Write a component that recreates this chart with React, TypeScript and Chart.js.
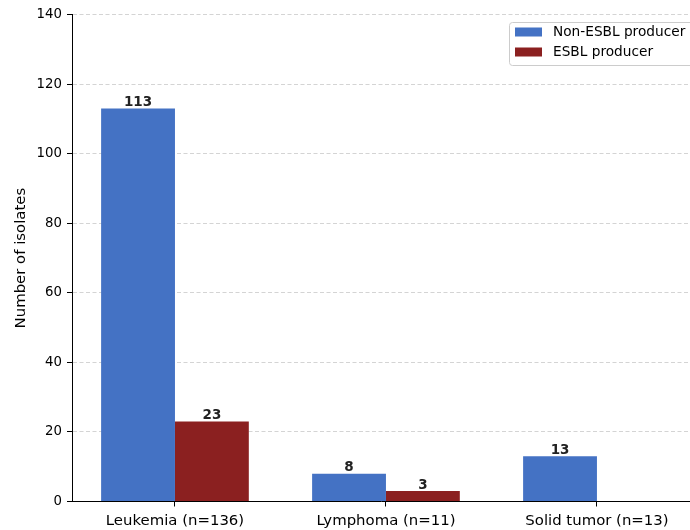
import React, { useEffect, useRef } from "react";
import { Chart, registerables } from "chart.js";

Chart.register(...registerables);

const categories = ["Leukemia (n=136)", "Lymphoma (n=11)", "Solid tumor (n=13)"];
const nonEsblValues = [113, 8, 13];
const esblValues = [23, 3, 0];
const seriesNames = ["Non-ESBL producer", "ESBL producer"];
const seriesColors = ["#4472C4", "#8B2020"];
const yTickValues = [0, 20, 40, 60, 80, 100, 120, 140];
const yTitle = "Number of isolates";

const FONT = "'DejaVu Sans', sans-serif";

const valueLabelPlugin = {
  id: "valueLabels",
  afterDatasetsDraw(chart: any) {
    const ctx = chart.ctx;
    ctx.save();
    ctx.font = `bold 13.5px ${FONT}`;
    ctx.fillStyle = "#222222";
    ctx.textAlign = "center";
    ctx.textBaseline = "alphabetic";
    chart.data.datasets.forEach((ds: any, di: number) => {
      const meta = chart.getDatasetMeta(di);
      meta.data.forEach((bar: any, i: number) => {
        const v = ds.data[i].y;
        if (!v) return;
        ctx.fillText(String(v), bar.x, bar.y - 2.5);
      });
    });
    ctx.restore();
  },
};

const legendPlugin = {
  id: "innerLegend",
  afterDraw(chart: any) {
    const ctx = chart.ctx;
    ctx.save();
    const x0 = 509.5;
    const y0 = 22.5;
    const w = 190;
    const h = 43;
    const r = 3;
    ctx.beginPath();
    ctx.moveTo(x0 + r, y0);
    ctx.lineTo(x0 + w - r, y0);
    ctx.arcTo(x0 + w, y0, x0 + w, y0 + r, r);
    ctx.lineTo(x0 + w, y0 + h - r);
    ctx.arcTo(x0 + w, y0 + h, x0 + w - r, y0 + h, r);
    ctx.lineTo(x0 + r, y0 + h);
    ctx.arcTo(x0, y0 + h, x0, y0 + h - r, r);
    ctx.lineTo(x0, y0 + r);
    ctx.arcTo(x0, y0, x0 + r, y0, r);
    ctx.closePath();
    ctx.fillStyle = "rgba(255,255,255,0.8)";
    ctx.fill();
    ctx.strokeStyle = "#cccccc";
    ctx.lineWidth = 1;
    ctx.stroke();
    ctx.font = `13.7px ${FONT}`;
    ctx.textAlign = "left";
    ctx.textBaseline = "middle";
    seriesNames.forEach((name, i) => {
      const cy = 32 + i * 20;
      ctx.fillStyle = seriesColors[i];
      ctx.fillRect(515, cy - 4.5, 27, 9);
      ctx.fillStyle = "#000000";
      ctx.fillText(name, 553, cy);
    });
    ctx.restore();
  },
};

export default function App() {
  const canvasRef = useRef<HTMLCanvasElement | null>(null);

  useEffect(() => {
    if (!canvasRef.current) return;
    const chart = new Chart(canvasRef.current, {
      type: "bar",
      data: {
        datasets: [
          {
            label: seriesNames[0],
            data: nonEsblValues.map((v, i) => ({ x: i, y: v })),
            backgroundColor: seriesColors[0],
            borderWidth: 0,
            categoryPercentage: 0.7,
            barPercentage: 1.0,
          },
          {
            label: seriesNames[1],
            data: esblValues.map((v, i) => ({ x: i, y: v })),
            backgroundColor: seriesColors[1],
            borderWidth: 0,
            categoryPercentage: 0.7,
            barPercentage: 1.0,
          },
        ],
      },
      options: {
        animation: false,
        responsive: false,
        devicePixelRatio: 1,
        layout: { padding: { top: 14.7, left: 0, right: 0, bottom: 0 } },
        plugins: {
          legend: { display: false },
          tooltip: { enabled: false },
        },
        scales: {
          x: {
            type: "linear",
            position: "bottom",
            offset: false,
            min: -0.488,
            max: 2.441,
            afterBuildTicks: (scale: any) => {
              scale.ticks = categories.map((_, i) => ({ value: i }));
            },
            afterFit: (scale: any) => {
              scale.height = 28.5;
              scale.paddingLeft = 0;
              scale.paddingRight = 0;
            },
            ticks: {
              autoSkip: false,
              maxRotation: 0,
              padding: 6,
              color: "#000000",
              font: { family: FONT, size: 14.9 },
              callback: (v: any) => categories[v] ?? "",
            },
            grid: {
              offset: false,
              drawOnChartArea: false,
              drawTicks: true,
              tickLength: 5,
              tickColor: "#000000",
              tickWidth: 1,
            },
            border: { display: true, color: "#000000", width: 1, z: 1 },
          },
          y: {
            min: 0,
            max: 140,
            afterBuildTicks: (scale: any) => {
              scale.ticks = yTickValues.map((v) => ({ value: v }));
            },
            afterFit: (scale: any) => {
              scale.width = 72;
              scale.paddingTop = 0;
              scale.paddingBottom = 0;
            },
            ticks: {
              padding: 5,
              color: "#000000",
              font: { family: FONT, size: 13.3 },
            },
            grid: {
              color: "rgba(176,176,176,0.55)",
              lineWidth: 1,
              drawTicks: true,
              tickLength: 5,
              tickColor: "#000000",
              tickWidth: 1,
            },
            border: { display: true, color: "#000000", width: 1, dash: [4, 2.5], z: 1 },
            title: {
              display: true,
              text: yTitle,
              color: "#000000",
              font: { family: FONT, size: 14.9 },
              padding: { top: 12, bottom: 0 },
            },
          },
        },
      } as any,
      plugins: [valueLabelPlugin, legendPlugin],
    });
    return () => chart.destroy();
  }, []);

  return (
    <div
      style={{
        position: "fixed",
        left: 0,
        top: 0,
        width: 690,
        height: 530,
        overflow: "hidden",
        background: "#ffffff",
      }}
    >
      <canvas ref={canvasRef} width={690} height={530} style={{ width: 690, height: 530, display: "block" }} />
    </div>
  );
}
